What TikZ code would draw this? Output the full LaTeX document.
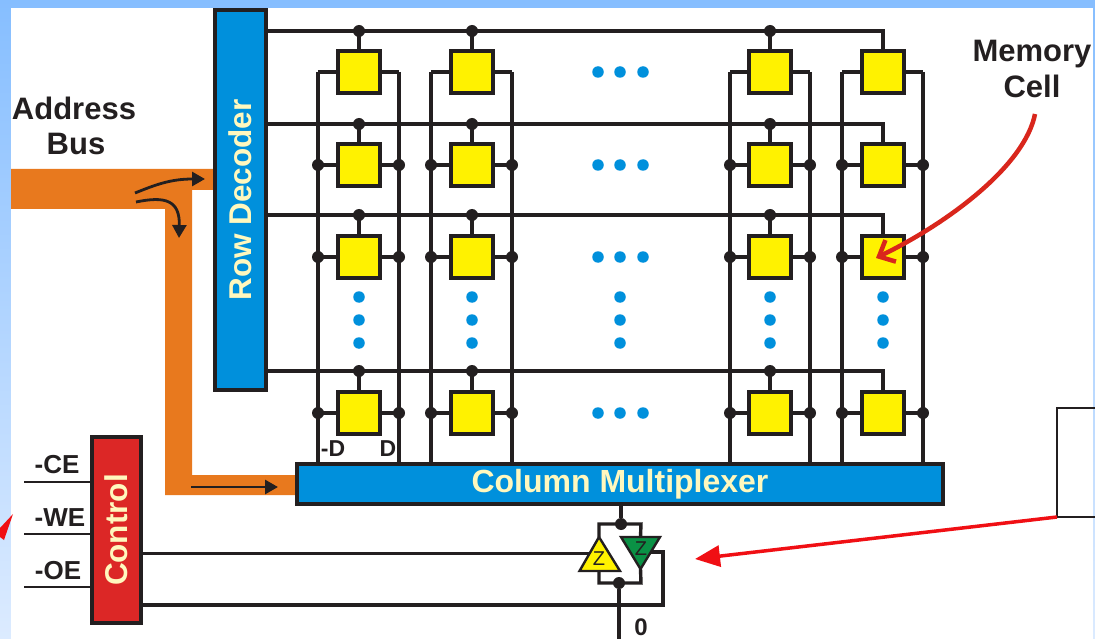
\documentclass[tikz,border=0pt]{standalone}
\usepackage{fontspec}
\setmainfont{Liberation Sans}
\usetikzlibrary{arrows.meta}
\definecolor{ink}{HTML}{231F20}
\definecolor{bgtop}{HTML}{86BEFF}
\definecolor{bgbot}{HTML}{DCEBFF}
\definecolor{busor}{HTML}{E8791E}
\definecolor{blk}{HTML}{0090DC}
\definecolor{cellyl}{HTML}{FFF200}
\definecolor{ctrlred}{HTML}{DC2726}
\definecolor{grn}{HTML}{0A9145}
\definecolor{pale}{HTML}{FFF8BE}
\definecolor{arrred}{HTML}{D9261C}
\definecolor{brightred}{HTML}{F00F14}
\newcommand{\fs}[1]{\fontsize{#1}{#1}\selectfont}
\tikzset{
 wire/.style={draw=ink,line width=3.4pt,line join=miter},
 thinwire/.style={draw=ink,line width=2.8pt},
 cellbox/.style={draw=ink,fill=cellyl,line width=3.5pt,minimum size=42pt,inner sep=0pt},
 blockbox/.style={draw=ink,line width=4pt,inner sep=0pt,text=pale,font=\fs{31.5}\bfseries},
 jdot/.style={circle,fill=ink,inner sep=0pt,minimum size=12pt},
 bdot/.style={circle,fill=blk,inner sep=0pt,minimum size=11.5pt},
 lab/.style={text=ink,font=\fs{31}\bfseries,inner sep=0pt,align=center},
 sig/.style={text=ink,font=\fs{26}\bfseries,inner sep=0pt},
 flow/.style={draw=ink,line width=2.8pt,-{Triangle[length=13pt,width=14pt]}},
}
\begin{document}
\begin{tikzpicture}[x=1pt,y=-1pt]
\useasboundingbox (0,0) rectangle (1095,639);
\shade[top color=bgtop,bottom color=bgbot] (0,0) rectangle (1095,639);
\fill[white] (11,8) rectangle (1093,639);
% address bus
\fill[busor] (11,169) -- (215,169) -- (215,190) -- (192,190) -- (192,475) -- (297,475) -- (297,495) -- (165,495) -- (165,209) -- (11,209) -- cycle;
% blocks
\node[blockbox,fill=blk,rotate=90,minimum width=380pt,minimum height=51pt] (dec) at (240.5,200) {Row Decoder};
\node[blockbox,fill=blk,minimum width=646pt,minimum height=40pt,font=\fs{32}\bfseries] (mux) at (620,484) {\raisebox{1pt}{Column Multiplexer}};
\node[blockbox,fill=ctrlred,rotate=90,minimum width=186pt,minimum height=49pt] (ctl) at (116.5,530) {Control};
% word lines
\foreach \j/\wy in {1/31,2/124,3/215,4/371}{
  \coordinate (wend\j) at (883,\wy);
  \draw[wire] (dec.south |- wend\j) -- (wend\j) -- (883,\wy+10);
}
% bit lines
\foreach \n/\x in {a/318,b/399,c/431,d/512,e/730,f/810,g/842,h/923}{
  \coordinate (top\n) at (\x,72);
  \draw[wire] (top\n) -- (top\n |- mux.north);
}
% cells
\foreach \i/\cx/\bl/\br in {1/359/a/b,2/472/c/d,3/770/e/f,4/883/g/h}{
  \foreach \j/\cy/\wy in {1/72/31,2/165/124,3/257/215,4/413/371}{
    \node[cellbox] (c\i\j) at (\cx,\cy) {};
    \draw[wire] (c\i\j.north) -- (\cx,\wy);
    \draw[wire] (c\i\j.west) -- (top\bl |- c\i\j.west);
    \draw[wire] (c\i\j.east) -- (top\br |- c\i\j.east);
    \ifnum\i<4 \node[jdot] (jw\i\j) at (\cx,\wy) {}; \fi
    \ifnum\j>1
      \node[jdot] (jl\i\j) at (top\bl |- c\i\j.west) {};
      \node[jdot] (jr\i\j) at (top\br |- c\i\j.west) {};
    \fi
  }
}
% ellipsis dots
\foreach \j/\cy in {1/72,2/165,3/257,4/413}
  \foreach \k/\x in {1/598,2/620,3/643}
    \node[bdot] (hd\j\k) at (\x,\cy) {};
\foreach \i/\x in {1/359,2/472,3/620,4/770,5/883}
  \foreach \k/\y in {1/297,2/320,3/343}
    \node[bdot] (vd\i\k) at (\x,\y) {};
% labels
\node[lab] (addr) at (74,108) {Address};
\node[lab] (bus) at (76,144) {Bus};
\node[lab] (mem) at (1032,54) {Memory};
\node[lab] (cell) at (1032,86) {Cell};
\node[sig,font=\fs{23}\bfseries] (nd) at (333,449) {-D};
\node[sig,font=\fs{23}\bfseries] (dd) at (388,449) {D};
\node[sig] (ce) at (57,465) {-CE};
\node[sig] (we) at (60,518) {-WE};
\node[sig] (oe) at (58,571) {-OE};
% control inputs
\coordinate (cei) at (24,482); \coordinate (wei) at (24,534); \coordinate (oei) at (24,587);
\draw[thinwire] (cei) -- (cei -| ctl.north);
\draw[thinwire] (wei) -- (wei -| ctl.north);
\draw[thinwire] (oei) -- (oei -| ctl.north);
% tri-state output
\coordinate (ya) at (599,537); \coordinate (yl) at (579.5,571); \coordinate (yr) at (620,571);
\coordinate (ga) at (640.5,569); \coordinate (gl) at (621,537); \coordinate (gr) at (660,537);
\coordinate (gc) at (650,552); \coordinate (gk) at (663,552); \coordinate (yc) at (590,553.5);
\node[jdot] (top) at (621,524) {};
\node[jdot] (bot) at (619,583) {};
\coordinate (out) at (619,639);
\draw[wire] (mux.south -| top) -- (top);
\draw[wire] (ya) -- (599,524) -- (641,524) -- (gl -| ga);
\draw[wire] (yr -| ya) -- (599,583) -- (641,583) -- (ga);
\draw[wire] (bot) -- (out);
\draw[thinwire] (ctl.south |- yc) -- (yc);
\draw[wire] (gc) -- (gk) -- (663,605) -- (ctl.south |- 663,605);
\draw[draw=ink,fill=cellyl,line width=2.4pt,line join=miter] (ya) -- (yl) -- (yr) -- cycle;
\draw[draw=ink,fill=grn,line width=2.4pt,line join=miter] (gl) -- (gr) -- (ga) -- cycle;
\node[text=ink,inner sep=0pt,font=\fs{20}] (zy) at (599,559) {Z};
\node[text=ink,inner sep=0pt,font=\fs{20}] (zg) at (641,549) {Z};
\node[sig,font=\fs{24}\bfseries] (zero) at (641,627) {0};
% flow arrows on the bus
\coordinate (fa) at (135,193); \coordinate (fb) at (205,179);
\coordinate (fc) at (136,202); \coordinate (fd) at (179,238);
\coordinate (fe) at (191,487); \coordinate (ff) at (278,487);
\draw[flow] (fa) .. controls (155,185) and (170,179) .. (fb);
\draw[flow] (fc) .. controls (165,196) and (180,200) .. (fd);
\draw[flow] (fe) -- (ff);
% red callouts
\coordinate (mtail) at (1035,114); \coordinate (mtip) at (876,258);
\draw[arrred,line width=4.5pt,-{Straight Barb[length=13pt,width=24pt,line width=4.5pt]}] (mtail) .. controls (1025,165) and (950,222) .. (mtip);
\coordinate (bc) at (1057,517);
\draw[ink,line width=1.5pt] (1095,408) -- (1057,408) -- (bc) -- (1095,517);
\coordinate (btip) at (695,559);
\draw[brightred,line width=3.5pt,-{Triangle[length=25pt,width=21pt]}] (bc) -- (btip);
\fill[brightred] (13,514) -- (4,540) -- (0,537) -- (0,528) -- cycle;
\end{tikzpicture}
\end{document}
